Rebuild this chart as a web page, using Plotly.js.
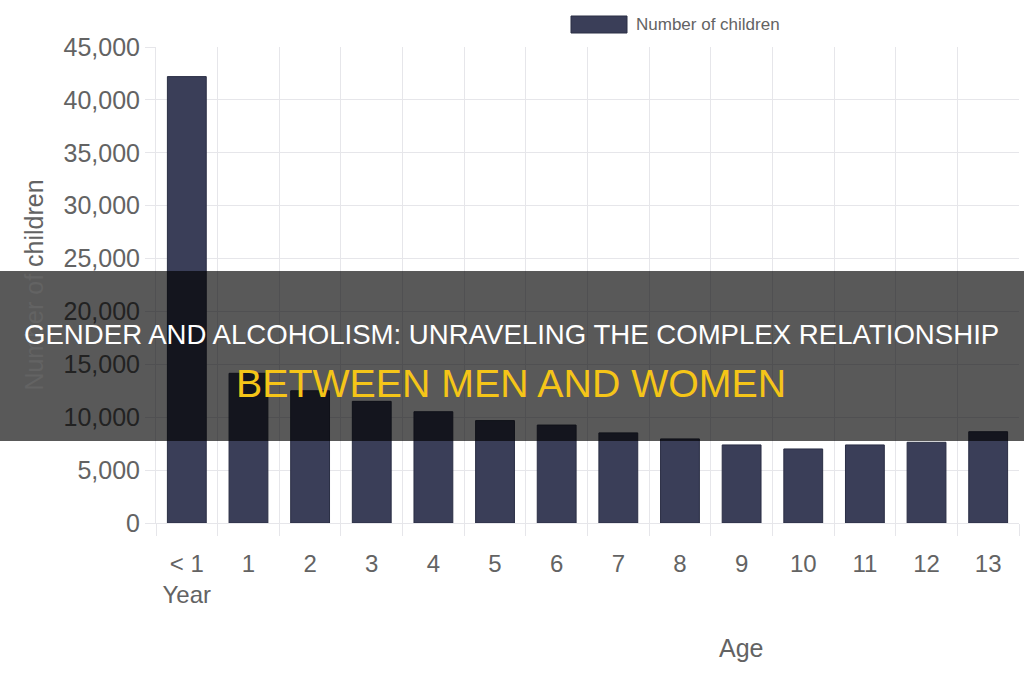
<!DOCTYPE html>
<html>
<head>
<meta charset="utf-8">
<script src="https://cdn.plot.ly/plotly-3.0.1.min.js"></script>
<style>html,body{margin:0;padding:0;background:#fff;}#chart{width:1024px;height:680px;}</style>
</head>
<body>
<div id="chart"></div>
<script>
const ageLabels = ["< 1<br>Year", "1", "2", "3", "4", "5", "6", "7", "8", "9", "10", "11", "12", "13"];
const childrenCounts = [42200, 14150, 12500, 11500, 10520, 9680, 9260, 8520, 7950, 7380, 7000, 7380, 7630, 8630];
const seriesName = "Number of children";
const xTitle = "Age";
const yTitle = "Number of children";
const headline1 = "GENDER AND ALCOHOLISM: UNRAVELING THE COMPLEX RELATIONSHIP";
const headline2 = "BETWEEN MEN AND WOMEN";

const W = 1024, H = 680;
const M = {l: 156, r: 5, t: 47, b: 157};
const PW = W - M.l - M.r, PH = H - M.t - M.b;
const px = x => (x - M.l) / PW;
const py = y => (H - M.b - y) / PH;

const barColor = "#3a3e58";
const gridColor = "#e6e6ea";
const textGray = "#636363";
const font = "Liberation Sans, Arial, Helvetica, sans-serif";

const trace = {
  type: "bar",
  x: ageLabels,
  y: childrenCounts,
  name: seriesName,
  marker: {color: barColor, line: {color: "#2a2e44", width: 1}},
  showlegend: false,
  hoverinfo: "x+y"
};

const layout = {
  width: W, height: H,
  margin: M,
  paper_bgcolor: "#ffffff",
  plot_bgcolor: "#ffffff",
  bargap: 0.37,
  font: {family: font, color: textGray},
  xaxis: {
    type: "category",
    tickson: "boundaries",
    ticks: "outside", ticklen: 12, tickcolor: gridColor, tickwidth: 1,
    showgrid: true, gridcolor: gridColor, gridwidth: 1,
    showline: true, linecolor: gridColor, linewidth: 1,
    tickfont: {size: 24, color: textGray, family: font},
    ticklabelstandoff: 19,
    zeroline: false,
    fixedrange: true
  },
  yaxis: {
    range: [0, 45000],
    tickvals: [0, 5000, 10000, 15000, 20000, 25000, 30000, 35000, 40000, 45000],
    ticktext: ["0", "5,000", "10,000", "15,000", "20,000", "25,000", "30,000", "35,000", "40,000", "45,000"],
    ticks: "outside", ticklen: 10, tickcolor: gridColor,
    showgrid: true, gridcolor: gridColor,
    showline: true, linecolor: gridColor,
    zeroline: true, zerolinecolor: "#dcdce0",
    tickfont: {size: 25, color: textGray, family: font},
    title: {text: yTitle, font: {size: 25, color: textGray, family: font}, standoff: 12},
    fixedrange: true
  },
  shapes: [
    {type: "rect", xref: "paper", yref: "paper", x0: px(571), x1: px(627), y0: py(33), y1: py(16),
     fillcolor: barColor, line: {color: "#2a2e44", width: 1}},
    {type: "rect", xref: "paper", yref: "paper", layer: "above", x0: px(0), x1: px(1024), y0: py(441), y1: py(271),
     fillcolor: "rgba(0,0,0,0.65)", line: {width: 0}}
  ],
  annotations: [
    {xref: "paper", yref: "paper", x: px(634), y: py(25), xanchor: "left", yanchor: "middle", showarrow: false,
     text: seriesName, font: {size: 17, color: textGray, family: font}},
    {xref: "paper", yref: "paper", x: px(741), y: py(648), xanchor: "center", yanchor: "middle", showarrow: false,
     text: xTitle, font: {size: 25, color: textGray, family: font}},
    {xref: "paper", yref: "paper", x: px(511), y: py(334), xanchor: "center", yanchor: "middle", showarrow: false,
     text: headline1, font: {size: 27.6, color: "#ffffff", family: font}},
    {xref: "paper", yref: "paper", x: px(511), y: py(383), xanchor: "center", yanchor: "middle", showarrow: false,
     text: headline2, font: {size: 39.3, color: "#f5c518", family: font}}
  ]
};

Plotly.newPlot("chart", [trace], layout, {displayModeBar: false, staticPlot: true});
</script>
</body>
</html>
